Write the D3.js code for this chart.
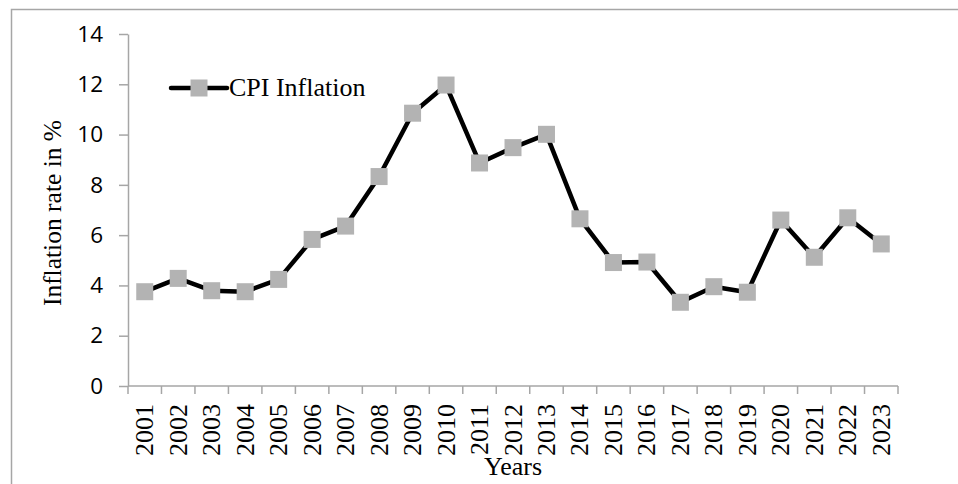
<!DOCTYPE html>
<html>
<head>
<meta charset="utf-8">
<script src="https://cdn.jsdelivr.net/npm/d3@7"></script>
<style>
  html, body { margin: 0; padding: 0; background: #ffffff; }
  svg { display: block; }
</style>
</head>
<body>
<div id="chart"></div>
<script>
'use strict';

// chart data
const years = ["2001", "2002", "2003", "2004", "2005", "2006", "2007", "2008", "2009", "2010",
               "2011", "2012", "2013", "2014", "2015", "2016", "2017", "2018", "2019", "2020",
               "2021", "2022", "2023"];
const cpiInflation = [3.75, 4.28, 3.79, 3.75, 4.24, 5.83, 6.36, 8.33, 10.85, 11.97,
                      8.87, 9.48, 10.01, 6.65, 4.91, 4.93, 3.33, 3.95, 3.73, 6.6,
                      5.12, 6.69, 5.65];
const yTicks = [0, 2, 4, 6, 8, 10, 12, 14];
const seriesName = "CPI Inflation";

const width = 958, height = 484;
const plotLeft = 128, plotRight = 898, plotTop = 34, plotBottom = 386;
const axisColor = "#a6a6a6";
const serif = "'Liberation Serif', 'DejaVu Serif', serif";
const sans = "'Open Sans', 'Noto Sans', sans-serif";

const svg = d3.select("#chart")
    .append("svg")
    .attr("width", width)
    .attr("height", height);

// outer chart border (runs off the right and bottom edges)
svg.append("rect")
    .attr("x", 11.5)
    .attr("y", 9.5)
    .attr("width", 980)
    .attr("height", 500)
    .attr("fill", "none")
    .attr("stroke", axisColor)
    .attr("stroke-width", 1.5);

const x = d3.scaleBand()
    .domain(years)
    .range([plotLeft, plotRight]);

const y = d3.scaleLinear()
    .domain([0, 14])
    .range([plotBottom, plotTop]);

// y axis
const yAxis = svg.append("g")
    .attr("transform", `translate(${plotLeft},0)`)
    .call(d3.axisLeft(y).tickValues(yTicks).tickSize(9).tickSizeOuter(0).tickPadding(16));
yAxis.select(".domain").attr("stroke", axisColor).attr("stroke-width", 1.5);
yAxis.selectAll(".tick line").attr("stroke", axisColor).attr("stroke-width", 1.5);
yAxis.selectAll(".tick text")
    .attr("font-family", sans)
    .attr("font-size", 22.5)
    .attr("fill", "#000");

// x axis, ticks between categories
const xAxis = svg.append("g")
    .attr("transform", `translate(0,${plotBottom})`);
xAxis.append("line")
    .attr("x1", plotLeft).attr("x2", plotRight)
    .attr("y1", 0).attr("y2", 0)
    .attr("stroke", axisColor)
    .attr("stroke-width", 1.5);
const boundaries = years.map(d => x(d)).concat([x(years[years.length - 1]) + x.bandwidth()]);
xAxis.selectAll(".xtick")
    .data(boundaries)
    .enter()
    .append("line")
    .attr("x1", d => d).attr("x2", d => d)
    .attr("y1", 0).attr("y2", 8)
    .attr("stroke", axisColor)
    .attr("stroke-width", 1.5);
xAxis.selectAll(".xlabel")
    .data(years)
    .enter()
    .append("text")
    .attr("transform", d => `translate(${x(d) + x.bandwidth() / 2 + 8.5},${18}) rotate(-90)`)
    .attr("text-anchor", "end")
    .attr("font-family", serif)
    .attr("font-size", 26)
    .attr("fill", "#000")
    .text(d => d);

// axis titles
svg.append("text")
    .attr("transform", `translate(${61},${(plotTop + plotBottom) / 2 + 3}) rotate(-90)`)
    .attr("text-anchor", "middle")
    .attr("font-family", serif)
    .attr("font-size", 25.5)
    .attr("fill", "#000")
    .text("Inflation rate in %");

svg.append("text")
    .attr("x", (plotLeft + plotRight) / 2)
    .attr("y", 475)
    .attr("text-anchor", "middle")
    .attr("font-family", serif)
    .attr("font-size", 26)
    .attr("fill", "#000")
    .text("Years");

// line series
const line = d3.line()
    .x((d, i) => x(years[i]) + x.bandwidth() / 2)
    .y(d => y(d));

svg.append("path")
    .datum(cpiInflation)
    .attr("d", line)
    .attr("fill", "none")
    .attr("stroke", "#000")
    .attr("stroke-width", 4.5)
    .attr("stroke-linejoin", "round");

const markerSize = 17;
svg.selectAll(".marker")
    .data(cpiInflation)
    .enter()
    .append("rect")
    .attr("x", (d, i) => x(years[i]) + x.bandwidth() / 2 - markerSize / 2)
    .attr("y", d => y(d) - markerSize / 2)
    .attr("width", markerSize)
    .attr("height", markerSize)
    .attr("fill", "#b3b3b3");

// legend
const legend = svg.append("g").attr("transform", "translate(171,88)");
legend.append("line")
    .attr("x1", 0).attr("x2", 56)
    .attr("y1", 0).attr("y2", 0)
    .attr("stroke", "#000")
    .attr("stroke-width", 4.5)
    .attr("stroke-linecap", "round");
legend.append("rect")
    .attr("x", 28 - markerSize / 2)
    .attr("y", -markerSize / 2)
    .attr("width", markerSize)
    .attr("height", markerSize)
    .attr("fill", "#b3b3b3");
legend.append("text")
    .attr("x", 58)
    .attr("y", 8)
    .attr("font-family", serif)
    .attr("font-size", 26)
    .attr("fill", "#000")
    .text(seriesName);
</script>
</body>
</html>
